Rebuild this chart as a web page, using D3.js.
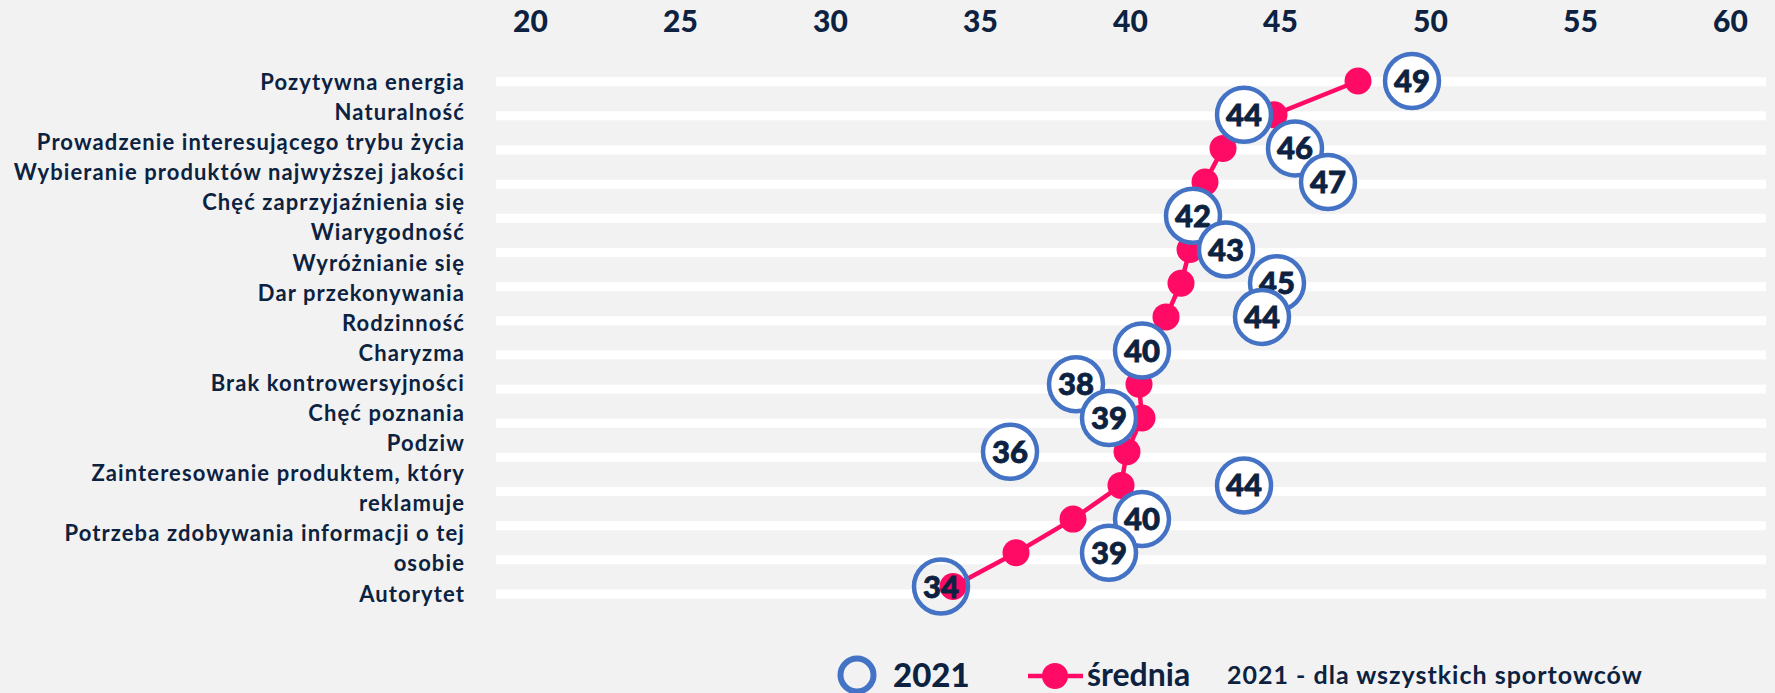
<!DOCTYPE html>
<html>
<head>
<meta charset="utf-8">
<script src="https://cdn.jsdelivr.net/npm/d3@7"></script>
<style>
  html, body { margin: 0; padding: 0; background: #f2f2f2; }
  svg { display: block; }
</style>
</head>
<body>
<svg id="chart" width="1775" height="693"></svg>
<script>
// ---- data ----
const categories = [
  "Pozytywna energia",
  "Naturalność",
  "Prowadzenie interesującego trybu życia",
  "Wybieranie produktów najwyższej jakości",
  "Chęć zaprzyjaźnienia się",
  "Wiarygodność",
  "Wyróżnianie się",
  "Dar przekonywania",
  "Rodzinność",
  "Charyzma",
  "Brak kontrowersyjności",
  "Chęć poznania",
  "Podziw",
  "Zainteresowanie produktem, który\nreklamuje",
  "Potrzeba zdobywania informacji o tej\nosobie",
  "Autorytet"
];
const values2021 = [49.4, 43.8, 45.5, 46.6, 42.1, 43.2, 44.9, 44.4, 40.4, 38.2, 39.3, 36.0, 43.8, 40.4, 39.3, 33.7];
const valuesAvg  = [47.6, 44.8, 43.1, 42.5, 42.2, 42.0, 41.7, 41.2, 40.6, 40.3, 40.4, 39.9, 39.7, 38.1, 36.2, 34.1];
const xTicks = [20, 25, 30, 35, 40, 45, 50, 55, 60];
const seriesNames = ["2021", "średnia", "2021 - dla wszystkich sportowców"];

// ---- style ----
const NAVY = "#0c2240";
const PINK = "#ff0a64";
const BLUE = "#4472c4";
const FONT = "Lato, 'Open Sans', sans-serif";

const svg = d3.select("#chart");
svg.append("rect").attr("width", 1775).attr("height", 693).attr("fill", "#f2f2f2");

const x = d3.scaleLinear().domain([20, 60]).range([530, 1730]);
const yMark = d3.scalePoint().domain(categories).range([81, 586.5]);
const yStripe = d3.scalePoint().domain(categories).range([81.7, 594]);

// stripes
svg.append("g").selectAll("rect").data(categories).join("rect")
  .attr("x", x(20) - 34).attr("width", (x(60) + 36) - (x(20) - 34))
  .attr("y", d => yStripe(d) - 4.5).attr("height", 9)
  .attr("fill", "#ffffff");

// top axis
const axis = d3.axisTop(x).tickValues(xTicks).tickSize(0).tickPadding(0);
const ax = svg.append("g").attr("transform", "translate(0,32)").call(axis);
ax.select(".domain").remove();
ax.selectAll("text")
  .attr("font-family", FONT).attr("font-weight", 900).attr("font-size", 30)
  .attr("fill", NAVY).attr("dy", 0);

// category labels (wrapped lines evenly spaced)
const lines = [];
categories.forEach(c => c.split("\n").forEach(l => lines.push(l)));
const yLine = d3.scaleLinear().domain([0, lines.length - 1]).range([82, 593.5]);
svg.append("g").selectAll("text").data(lines).join("text")
  .attr("x", 465).attr("y", (d, i) => yLine(i) + 8)
  .attr("text-anchor", "end")
  .attr("font-family", FONT).attr("font-weight", 700).attr("font-size", 22)
  .attr("letter-spacing", 1.1)
  .attr("fill", NAVY).text(d => d);

// average line
const line = d3.line().x(d => x(d.v)).y(d => yMark(d.c));
const avgData = categories.map((c, i) => ({ c, v: valuesAvg[i] }));
svg.append("path").datum(avgData)
  .attr("d", line).attr("fill", "none")
  .attr("stroke", PINK).attr("stroke-width", 4.5);
svg.append("g").selectAll("circle").data(avgData).join("circle")
  .attr("cx", d => x(d.v)).attr("cy", d => yMark(d.c)).attr("r", 13.5)
  .attr("fill", PINK);

// 2021 circles with labels
const d21 = categories.map((c, i) => ({ c, v: values2021[i], i }));
const g21 = svg.append("g").selectAll("g").data(d21).join("g")
  .attr("transform", d => `translate(${x(d.v)},${yMark(d.c)})`);
g21.append("circle").attr("r", 27)
  .attr("fill", d => d.i === d21.length - 1 ? "none" : "#ffffff")
  .attr("stroke", BLUE).attr("stroke-width", 4.5);
g21.append("text")
  .attr("text-anchor", "middle").attr("y", 11)
  .attr("font-family", FONT).attr("font-weight", 900).attr("font-size", 31)
  .attr("stroke", NAVY).attr("stroke-width", 0.8)
  .attr("fill", NAVY).text(d => d3.format(".0f")(d.v));

// legend
const lg = svg.append("g");
lg.append("circle").attr("cx", 857).attr("cy", 675).attr("r", 16.5)
  .attr("fill", "none").attr("stroke", BLUE).attr("stroke-width", 6);
lg.append("text").attr("x", 893).attr("y", 687)
  .attr("font-family", FONT).attr("font-weight", 900).attr("font-size", 33)
  .attr("fill", NAVY).text(seriesNames[0]);
lg.append("line").attr("x1", 1028).attr("x2", 1083).attr("y1", 676).attr("y2", 676)
  .attr("stroke", PINK).attr("stroke-width", 4.5);
lg.append("circle").attr("cx", 1055).attr("cy", 676).attr("r", 13).attr("fill", PINK);
lg.append("text").attr("x", 1087).attr("y", 686)
  .attr("font-family", FONT).attr("font-weight", 700).attr("font-size", 32)
  .attr("fill", NAVY).text(seriesNames[1]);
lg.append("text").attr("x", 1227).attr("y", 684)
  .attr("font-family", FONT).attr("font-weight", 700).attr("font-size", 25)
  .attr("letter-spacing", 1)
  .attr("fill", NAVY).text(seriesNames[2]);
</script>
</body>
</html>
